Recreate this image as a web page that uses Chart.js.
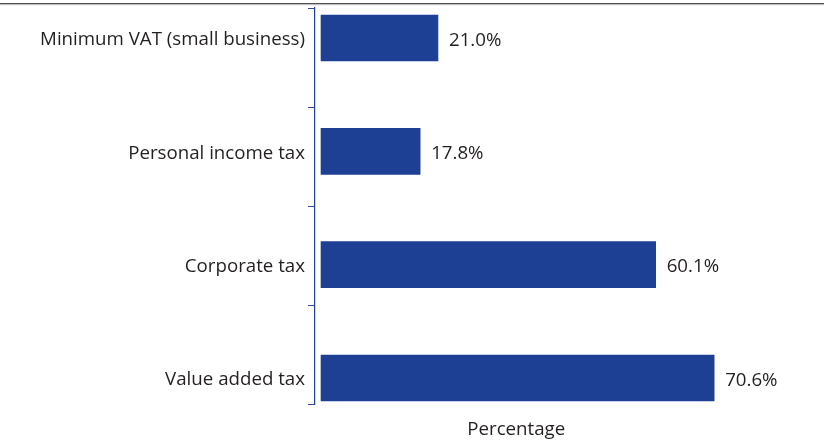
<!DOCTYPE html>
<html>
<head>
<meta charset="utf-8">
<script src="https://cdn.jsdelivr.net/npm/chart.js@4/dist/chart.umd.min.js"></script>
<style>
  html, body { margin: 0; padding: 0; background: #fff; }
  #wrap { width: 824px; height: 445px; position: relative; }
</style>
</head>
<body>
<div id="wrap"><canvas id="chart"></canvas></div>
<script>
// Tax types and their shares (%)
const categories = [
  'Minimum VAT (small business)',
  'Personal income tax',
  'Corporate tax',
  'Value added tax'
];
const shares = [21.0, 17.8, 60.1, 70.6];
const axisTitle = 'Percentage';

const BLUE = '#1d3f94';
const INK = '#231f20';
const FONT_FAMILY = "'Open Sans', 'Noto Sans', sans-serif";
const FONT_SIZE = 18.7;

// Vertical axis range (category rows sit on 0..3, reversed so the first is on top)
const Y_MIN = -0.265;
const Y_MAX = 3.238;
// The axis line carries evenly spaced divider marks along its length
const DIVIDER_COUNT = 4;
const dividerValues = [];
for (let k = 0; k <= DIVIDER_COUNT; k++) {
  dividerValues.push(Y_MIN + k * (Y_MAX - Y_MIN) / DIVIDER_COUNT);
}
const isDivider = v => dividerValues.some(d => Math.abs(d - v) < 1e-9);

// Thin rule across the top of the figure
const topRule = {
  id: 'topRule',
  beforeDraw(chart) {
    const ctx = chart.ctx;
    ctx.save();
    ctx.fillStyle = '#4d4d4d';
    ctx.fillRect(0, 3, chart.width, 1.2);
    ctx.fillStyle = '#bdbdbd';
    ctx.fillRect(0, 4.2, chart.width, 1);
    ctx.restore();
  }
};

// Value labels to the right of each bar
const valueLabels = {
  id: 'valueLabels',
  afterDatasetsDraw(chart) {
    const ctx = chart.ctx;
    const meta = chart.getDatasetMeta(0);
    ctx.save();
    ctx.font = `${FONT_SIZE}px ${FONT_FAMILY}`;
    ctx.fillStyle = INK;
    ctx.textAlign = 'left';
    ctx.textBaseline = 'middle';
    meta.data.forEach((bar, i) => {
      ctx.fillText(shares[i].toFixed(1) + '%', bar.x + 11, bar.y + 2.5);
    });
    ctx.restore();
  }
};

new Chart(document.getElementById('chart'), {
  type: 'bar',
  data: {
    datasets: [{
      data: shares.map((v, i) => ({ x: v, y: i })),
      backgroundColor: BLUE,
      borderWidth: 0,
      barThickness: 46
    }]
  },
  options: {
    indexAxis: 'y',
    responsive: true,
    maintainAspectRatio: false,
    animation: false,
    layout: { padding: { top: 8, right: 106.5, bottom: 0, left: 0 } },
    plugins: {
      legend: { display: false },
      tooltip: { enabled: false }
    },
    scales: {
      x: {
        type: 'linear',
        min: -1.08,
        max: 71.2,
        ticks: { display: false },
        grid: { display: false, drawTicks: false },
        border: { display: false },
        title: {
          display: true,
          text: axisTitle,
          color: INK,
          font: { family: FONT_FAMILY, size: FONT_SIZE },
          padding: { top: 13.3, bottom: 4.3 }
        }
      },
      y: {
        type: 'linear',
        reverse: true,
        offset: false,
        min: Y_MIN,
        max: Y_MAX,
        afterBuildTicks(scale) {
          const values = dividerValues.concat(categories.map((_, i) => i)).sort((a, b) => a - b);
          scale.ticks = values.map(v => ({ value: v }));
        },
        afterFit(scale) {
          scale.width = 315;
          scale.paddingTop = 0;
          scale.paddingBottom = 0;
        },
        ticks: {
          autoSkip: false,
          padding: 3,
          labelOffset: 2,
          color: INK,
          font: { family: FONT_FAMILY, size: FONT_SIZE },
          callback(value) {
            const i = Math.round(value);
            if (!isDivider(value) && Math.abs(value - i) < 1e-9 && categories[i] !== undefined) {
              return categories[i];
            }
            return '';
          }
        },
        grid: {
          display: true,
          offset: false,
          drawOnChartArea: false,
          drawTicks: true,
          tickLength: 7,
          lineWidth: 1,
          color: ctx => (ctx.tick && isDivider(ctx.tick.value)) ? '#2b4c9e' : 'rgba(0,0,0,0)'
        },
        border: { display: true, color: BLUE, width: 1.2 }
      }
    }
  },
  plugins: [topRule, valueLabels]
});
</script>
</body>
</html>
